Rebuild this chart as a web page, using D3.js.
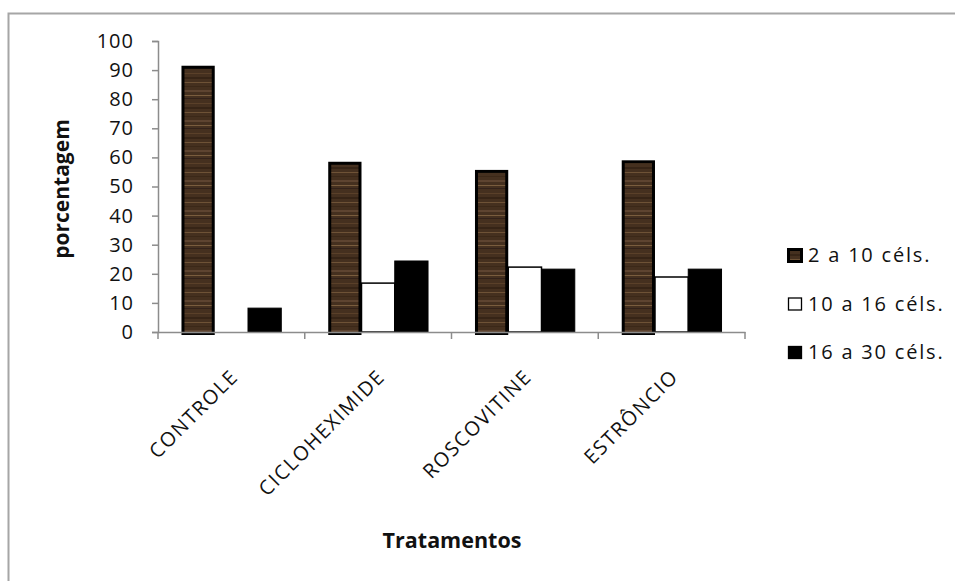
<!DOCTYPE html>
<html>
<head>
<meta charset="utf-8">
<title>Tratamentos</title>
<style>
  body { margin: 0; background: #fff; }
  text { font-family: "Open Sans", "Liberation Sans", sans-serif; fill: #111; }
</style>
</head>
<body>
<svg></svg>
<script src="https://d3js.org/d3.v7.min.js"></script>
<script>
const categories = ['CONTROLE', 'CICLOHEXIMIDE', 'ROSCOVITINE', 'ESTRÔNCIO'];
const seriesNames = ['2 a 10 céls.', '10 a 16 céls.', '16 a 30 céls.'];
const s2a10 = [91.5, 58.5, 55.7, 59];
const s10a16 = [0, 16.8, 22.3, 18.9];
const s16a30 = [8.2, 24.4, 21.6, 21.6];
const yTicks = [0, 10, 20, 30, 40, 50, 60, 70, 80, 90, 100];

const width = 955, height = 581;
const margin = { top: 41, left: 158 };
const innerW = 745 - margin.left;
const innerH = 332 - margin.top;

const svg = d3.select('svg').attr('width', width).attr('height', height);

// textura marrom tipo madeira
const defs = svg.append('defs');
const pat = defs.append('pattern').attr('id', 'wood')
  .attr('patternUnits', 'userSpaceOnUse').attr('width', 40).attr('height', 30);
pat.append('rect').attr('width', 40).attr('height', 30).attr('fill', '#45301f');
[[2, 1, '#5a4029'], [6, 2, '#362416'], [11, 1, '#6e5236'], [15, 1, '#3b2818'], [19, 2, '#5e4430'], [24, 1, '#7a5d3e'], [27, 1, '#33221a']]
  .forEach(([y, h, c]) => pat.append('rect').attr('y', y).attr('width', 40).attr('height', h).attr('fill', c));

// moldura
svg.append('rect').attr('x', 8.5).attr('y', 13.5).attr('width', 1000).attr('height', 1000)
  .attr('fill', 'none').attr('stroke', '#a6a6a6').attr('stroke-width', 2);

const g = svg.append('g').attr('transform', `translate(${margin.left},${margin.top})`);

const x0 = d3.scaleBand().domain(categories).range([0, innerW]).paddingInner(0.32).paddingOuter(0.16);
const x1 = d3.scaleBand().domain(seriesNames).range([0, x0.bandwidth()]);
const y = d3.scaleLinear().domain([0, 100]).range([innerH, 0]);

const data = categories.map((c, i) => ({ cat: c, vals: [s2a10[i], s10a16[i], s16a30[i]] }));
const fills = ['url(#wood)', '#fff', '#000'];
const strokeW = [3, 1.5, 1];

// eixo y
const yAxis = g.append('g').call(d3.axisLeft(y).tickValues(yTicks).tickSize(6).tickPadding(18));
yAxis.select('.domain').attr('stroke', '#8c8c8c').attr('stroke-width', 1.5);
yAxis.selectAll('.tick line').attr('stroke', '#8c8c8c').attr('stroke-width', 1.5);
yAxis.selectAll('.tick text').style('font-size', '20px').style('letter-spacing', '1px').attr('fill', '#111');

// barras
const groups = g.selectAll('.grp').data(data).join('g')
  .attr('transform', d => `translate(${x0(d.cat)},0)`);
groups.selectAll('rect').data(d => d.vals.map((v, k) => ({ v, k }))).join('rect')
  .attr('x', d => x1(seriesNames[d.k]) + (d.k === 0 ? 1.5 : 0))
  .attr('width', d => x1.bandwidth() - (d.k === 0 ? 3 : 0))
  .attr('y', d => y(d.v) + (d.k === 0 ? 1.5 : 0))
  .attr('height', d => Math.max(0, innerH - y(d.v)))
  .attr('fill', d => fills[d.k])
  .attr('stroke', '#000')
  .attr('stroke-width', d => d.v > 0 ? strokeW[d.k] : 0);

// eixo x
const xAxis = g.append('g').attr('transform', `translate(0,${innerH})`)
  .call(d3.axisBottom(x0).tickSize(0).tickFormat(''));
xAxis.select('.domain').attr('stroke', '#8c8c8c').attr('stroke-width', 1.5);
g.append('g').selectAll('line')
  .data([0, ...categories.slice(1).map(c => x0(c) - x0.step() * x0.paddingInner() / 2), innerW]).join('line')
  .attr('x1', d => d).attr('x2', d => d).attr('y1', innerH).attr('y2', innerH + 7)
  .attr('stroke', '#8c8c8c').attr('stroke-width', 1.5);

g.append('g').selectAll('text').data(categories).join('text')
  .attr('transform', d => `translate(${x0(d) + x0.bandwidth() / 2 + 8},${innerH + 46}) rotate(-45)`)
  .attr('text-anchor', 'end')
  .style('font-size', '20px').style('letter-spacing', '1.5px')
  .text(d => d);

// títulos
svg.append('text').attr('transform', 'translate(69,189) rotate(-90)')
  .attr('text-anchor', 'middle').style('font-size', '21px').style('font-weight', 'bold')
  .text('porcentagem');
svg.append('text').attr('x', 452).attr('y', 548)
  .attr('text-anchor', 'middle').style('font-size', '21.5px').style('font-weight', 'bold')
  .text('Tratamentos');

// legenda
const legend = svg.append('g').attr('transform', 'translate(787,248)');
const li = legend.selectAll('g').data(seriesNames).join('g')
  .attr('transform', (d, i) => `translate(0,${i * 48.5})`);
li.append('rect').attr('x', 1.5).attr('y', 1.5).attr('width', 13).attr('height', 12)
  .attr('fill', (d, i) => fills[i]).attr('stroke', '#000').attr('stroke-width', (d, i) => i === 0 ? 3 : 1.3);
li.append('text').attr('x', 21).attr('y', 14).style('font-size', '20px').style('letter-spacing', '1.8px').text(d => d);
</script>
</body>
</html>
